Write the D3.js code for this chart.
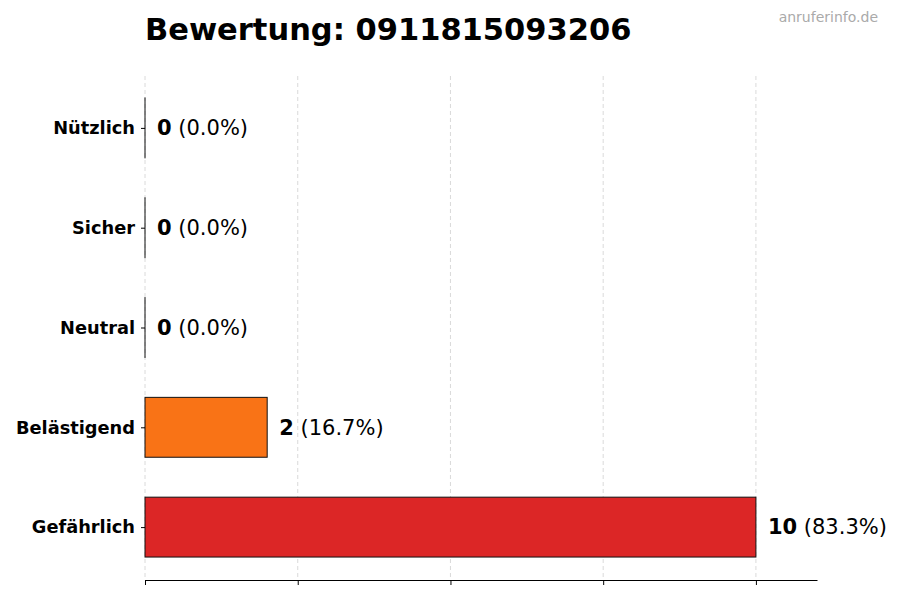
<!DOCTYPE html>
<html>
<head>
<meta charset="utf-8">
<script src="https://cdn.jsdelivr.net/npm/d3@7"></script>
<style>
  body { margin: 0; background: #fff; }
  svg { font-family: "DejaVu Sans", sans-serif; }
  .grid line { stroke: #d0d0d0; stroke-dasharray: 4,3; stroke-width: 0.8; }
</style>
</head>
<body>
<div id="chart"></div>
<script>
// data, bottom to top as drawn
const categories = ["Gefährlich", "Belästigend", "Neutral", "Sicher", "Nützlich"];
const counts = [10, 2, 0, 0, 0];
const colors = ["#dc2626", "#f97316", "#9ca3af", "#22c55e", "#3b82f6"];
const xTicks = [0, 2.5, 5, 7.5, 10];
const title = "Bewertung: 0911815093206";
const watermark = "anruferinfo.de";

const total = d3.sum(counts);
const data = categories.map((c, i) => ({ cat: c, value: counts[i], color: colors[i], idx: i }));

const width = 900, height = 600;
const margin = { top: 76, right: 83, bottom: 20, left: 145 };

const svg = d3.select("#chart")
    .append("svg")
    .attr("width", width)
    .attr("height", height);

const xScale = d3.scaleLinear()
    .domain([0, 11])
    .range([margin.left, width - margin.right]);

const yScale = d3.scaleLinear()
    .domain([-0.53, 4.52])
    .range([height - margin.bottom, margin.top]);

const barH = yScale(0) - yScale(0.6);

// grid
svg.append("g")
    .attr("class", "grid")
    .selectAll("line")
    .data(xTicks)
    .enter().append("line")
    .attr("x1", d => xScale(d))
    .attr("x2", d => xScale(d))
    .attr("y1", margin.top)
    .attr("y2", height - margin.bottom);

// bars (zero bars keep a hairline width so their edge still shows)
svg.append("g")
    .selectAll("rect")
    .data(data)
    .enter().append("rect")
    .attr("x", xScale(0))
    .attr("y", d => yScale(d.idx) - barH / 2)
    .attr("width", d => Math.max(xScale(d.value) - xScale(0), 0.01))
    .attr("height", barH)
    .style("fill", d => d.color)
    .style("stroke", "#111")
    .style("stroke-width", 1);

// value labels
const labels = svg.append("g")
    .selectAll("text")
    .data(data)
    .enter().append("text")
    .attr("x", d => xScale(d.value) + 12)
    .attr("y", d => yScale(d.idx))
    .attr("dy", "0.35em")
    .style("font-size", "21px");

labels.append("tspan")
    .style("font-weight", "bold")
    .text(d => d.value);

labels.append("tspan")
    .text(d => " (" + (d.value / total * 100).toFixed(1) + "%)");

// y axis: ticks and labels, no spine
const yAxis = svg.append("g")
    .attr("transform", "translate(" + margin.left + ",0)")
    .call(d3.axisLeft(yScale).tickValues(d3.range(categories.length)).tickSize(4).tickPadding(6)
        .tickFormat(i => categories[i]));
yAxis.select(".domain").remove();
yAxis.selectAll("text")
    .style("font-size", "17.8px")
    .style("font-weight", "bold")
    .style("font-family", "DejaVu Sans, sans-serif")
    .attr("fill", "#000");

// x axis: spine and ticks, no labels
const xAxis = svg.append("g")
    .attr("transform", "translate(0," + (height - margin.bottom) + ")")
    .call(d3.axisBottom(xScale).tickValues(xTicks).tickSize(5).tickSizeOuter(0).tickFormat(""));
xAxis.select(".domain").attr("stroke", "#000");

// title
svg.append("text")
    .attr("x", margin.left)
    .attr("y", 40)
    .style("font-size", "30.5px")
    .style("font-weight", "bold")
    .text(title);

svg.append("text")
    .attr("x", 878)
    .attr("y", 22)
    .attr("text-anchor", "end")
    .style("font-size", "14px")
    .style("fill", "#aaa")
    .text(watermark);
</script>
</body>
</html>
